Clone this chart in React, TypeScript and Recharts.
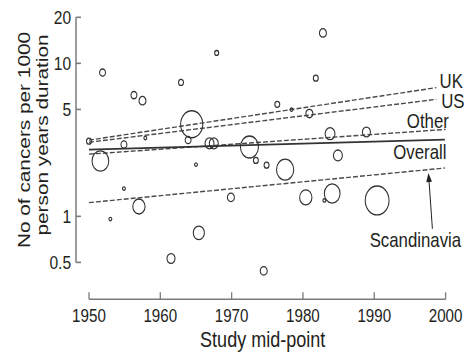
import { ScatterChart, Scatter, XAxis, YAxis, ZAxis, ReferenceLine, Label } from 'recharts';

// the original figure is squeezed horizontally, so the chart is drawn wider and scaled in x
const SQUEEZE = 0.82;
const W = 566;
const H = 352;

const X_MIN = 1948.18;
const Y_MIN = 0.287;

const xTicks = [1950, 1960, 1970, 1980, 1990, 2000];
const yTicks = [0.5, 1, 5, 10, 20];

// one entry per study: mid-point year, rate per 1000 person years, study weight
const studyYear = [
  1951.9, 1956.3, 1957.5, 1962.9, 1967.9, 1982.8, 1981.8, 1976.4, 1980.9, 1964.4,
  1950.0, 1954.9, 1957.9, 1963.9, 1966.9, 1967.5, 1951.6, 1965.0, 1954.9, 1957.0,
  1953.0, 1965.4, 1961.5, 1969.9, 1974.5, 1972.5, 1973.4, 1974.9, 1977.5, 1980.4,
  1984.1, 1983.0, 1990.4, 1984.9, 1983.8, 1988.9, 1978.4,
];
const cancerRate = [
  8.7, 6.2, 5.7, 7.5, 11.7, 15.8, 8.0, 5.4, 4.7, 4.0,
  3.1, 2.95, 3.25, 3.15, 3.0, 3.0, 2.3, 2.18, 1.52, 1.16,
  0.96, 0.78, 0.53, 1.33, 0.44, 2.84, 2.32, 2.16, 2.02, 1.33,
  1.41, 1.27, 1.27, 2.5, 3.47, 3.56, 4.98,
];
const studyWeight = [
  13, 13, 18, 9, 6, 18, 9, 9, 18, 182,
  9, 13, 3, 13, 30, 30, 104, 3, 3, 56,
  3, 46, 24, 18, 18, 121, 9, 9, 110, 56,
  92, 3, 210, 30, 36, 24, 3,
];

// fitted trend lines
const fitNames = ['UK', 'US', 'Other', 'Overall', 'Scandinavia'];
const fitStartYear = [1950, 1950, 1950, 1950, 1950];
const fitStartRate = [3.15, 3.05, 2.55, 2.73, 1.23];
const fitEndYear = [1998.7, 1998.7, 2000, 1999.9, 1999.9];
const fitEndRate = [6.94, 5.82, 3.7, 3.17, 2.07];

// Scandinavia pointer: from label up to its line
const arrowFrom = { year: 1998.15, rate: 0.83 };
const arrowTo = { year: 1997.6, rate: 1.92 };

const studies = studyYear.map((year, i) => ({ year, rate: cancerRate[i], weight: studyWeight[i] }));

const INK = '#231f20';
const LINE = '#4a4a4a';
const AXIS = '#7a7a7a';
const FONT = "'Liberation Sans', Arial, sans-serif";

const labelPlace: Record<string, { dx: number; dy: number; anchor: 'start' | 'end' }> = {
  UK: { dx: 4, dy: 0, anchor: 'start' },
  US: { dx: 6, dy: 9, anchor: 'start' },
  Other: { dx: 4, dy: -1, anchor: 'end' },
  Overall: { dx: 2, dy: 19, anchor: 'end' },
};

const XTick = ({ x, y, payload }: any) => (
  <g>
    <line x1={x} y1={y - 10} x2={x} y2={y - 17} stroke={AXIS} strokeWidth={1.6} />
    <text x={x} y={y + 12.5} textAnchor="middle" fontSize={18.5} fontFamily={FONT} fill={INK}>
      {payload.value}
    </text>
  </g>
);

const YTick = ({ x, y, payload }: any) => (
  <g>
    <line x1={x + 6} y1={y} x2={x + 12} y2={y} stroke={AXIS} strokeWidth={1.6} />
    <text x={x} y={y + 6.8} textAnchor="end" fontSize={19} fontFamily={FONT} fill={INK}>
      {payload.value}
    </text>
  </g>
);

const YTitle = () => (
  <g fontSize={20.8} fontFamily={FONT} fill={INK} textAnchor="middle">
    <text x={37.2} y={140} transform="rotate(-90 37.2 140)">No of cancers per 1000</text>
    <text x={59.1} y={135} transform="rotate(-90 59.1 135)">person years duration</text>
  </g>
);

const XTitle = () => (
  <text x={320.4} y={347} textAnchor="middle" fontSize={22} fontFamily={FONT} fill={INK}>
    Study mid-point
  </text>
);

const fitShape = (name: string, solid: boolean) => (p: any) => {
  const place = labelPlace[name];
  return (
    <g>
      <line
        x1={p.x1} y1={p.y1} x2={p.x2} y2={p.y2}
        stroke={solid ? '#333' : LINE}
        strokeWidth={solid ? 1.7 : 1.4}
        strokeDasharray={solid ? undefined : '6 2.5'}
      />
      {place && (
        <text x={p.x2 + place.dx} y={p.y2 + place.dy} textAnchor={place.anchor}
          fontSize={20.5} fontFamily={FONT} fill={INK}>
          {name}
        </text>
      )}
    </g>
  );
};

const arrowShape = (p: any) => {
  const { x1, y1, x2, y2 } = p;
  const ang = Math.atan2(y2 - y1, x2 - x1);
  const len = 9;
  const half = 3.5;
  const bx = x2 - len * Math.cos(ang);
  const by = y2 - len * Math.sin(ang);
  const px = -Math.sin(ang) * half;
  const py = Math.cos(ang) * half;
  return (
    <g>
      <line x1={x1} y1={y1} x2={bx} y2={by} stroke={INK} strokeWidth={1.2} />
      <polygon points={`${x2},${y2} ${bx + px},${by + py} ${bx - px},${by - py}`} fill={INK} />
      <text x={x1 - 20.7} y={y1 + 18.4} textAnchor="middle" fontSize={20.5} fontFamily={FONT} fill={INK}>
        Scandinavia
      </text>
    </g>
  );
};

export default function App() {
  return (
    <div style={{ position: 'absolute', left: 0, top: 0, width: 464, height: H, overflow: 'hidden', background: '#fff' }}>
      <div style={{ width: W, height: H, transform: `scaleX(${SQUEEZE})`, transformOrigin: '0 0' }}>
        <ScatterChart width={W} height={H} margin={{ top: 17.3, right: 22.6, bottom: 0, left: 0 }}>
          <XAxis
            type="number" dataKey="year" domain={[X_MIN, 2000]} allowDataOverflow
            ticks={xTicks} interval={0} axisLine={false} tickLine={false}
            tickSize={0} tickMargin={10} height={52.7} tick={<XTick />}
          >
            <Label content={<XTitle />} />
          </XAxis>
          <YAxis
            type="number" dataKey="rate" scale="log" domain={[Y_MIN, 20]} allowDataOverflow
            ticks={yTicks} interval={0} axisLine={false} tickLine={false}
            tickSize={0} tickMargin={6} width={92.7} tick={<YTick />}
          >
            <Label content={<YTitle />} />
          </YAxis>
          <ZAxis type="number" dataKey="weight" domain={[0, 225]} range={[0, 225 * Math.PI]} />

          <ReferenceLine segment={[{ x: X_MIN, y: 0.5 }, { x: X_MIN, y: 20 }]} stroke={AXIS} strokeWidth={1.8} ifOverflow="visible" />
          <ReferenceLine segment={[{ x: 1950, y: Y_MIN }, { x: 2000, y: Y_MIN }]} stroke={AXIS} strokeWidth={1.6} ifOverflow="visible" />

          {fitNames.map((name, i) => (
            <ReferenceLine
              key={name}
              segment={[{ x: fitStartYear[i], y: fitStartRate[i] }, { x: fitEndYear[i], y: fitEndRate[i] }]}
              ifOverflow="visible"
              shape={fitShape(name, name === 'Overall')}
            />
          ))}
          <ReferenceLine
            segment={[{ x: arrowFrom.year, y: arrowFrom.rate }, { x: arrowTo.year, y: arrowTo.rate }]}
            ifOverflow="visible"
            shape={arrowShape}
          />

          <Scatter data={studies} fill="none" stroke="#333" strokeWidth={1.3} isAnimationActive={false} />
        </ScatterChart>
      </div>
    </div>
  );
}
